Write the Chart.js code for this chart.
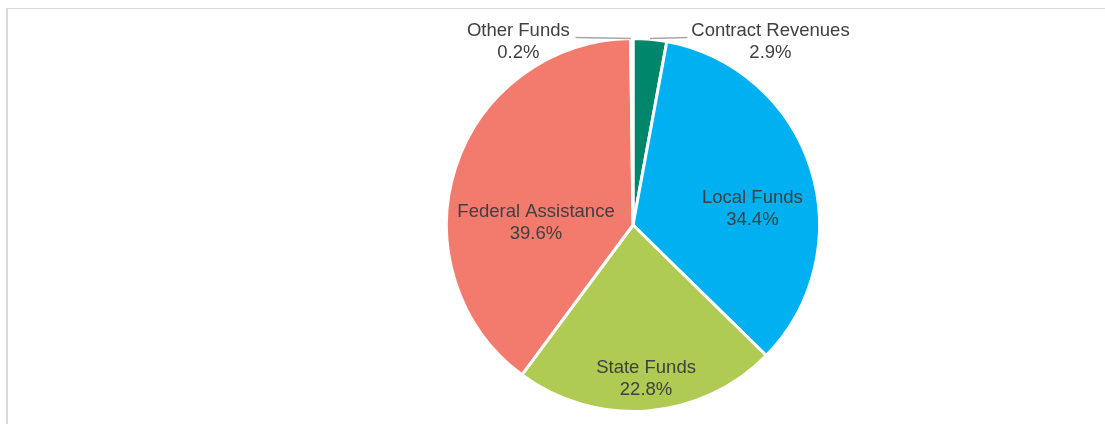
<!DOCTYPE html>
<html>
<head>
<meta charset="utf-8">
<script src="https://cdn.jsdelivr.net/npm/chart.js@4/dist/chart.umd.min.js"></script>
<style>
  html, body { margin: 0; padding: 0; background: #fff; }
  #wrap { position: relative; width: 1105px; height: 424px; overflow: hidden; }
  #frame { position: absolute; left: 6px; top: 8px; width: 1110px; height: 430px;
           border-left: 2px solid #d9d9d9; border-top: 1px solid #d9d9d9; }
  canvas { position: absolute; left: 0; top: 0; }
</style>
</head>
<body>
<div id="wrap">
  <div id="frame"></div>
  <canvas id="pieChart" width="1105" height="424"></canvas>
</div>
<script>
var categories = ['Contract Revenues', 'Local Funds', 'State Funds', 'Federal Assistance', 'Other Funds'];
var shares = [2.9, 34.4, 22.8, 39.6, 0.2];
var sliceColors = ['#00876b', '#00b0f0', '#b0cb54', '#f27b6d', '#a5a5a5'];

// label centres, in pie radii from the pie centre
var labelOffsets = [[0.737, -0.98], [0.64, -0.085], [0.07, 0.825], [-0.52, -0.013], [-0.615, -0.98]];
// leader lines for the labels that sit outside
var leaders = { 0: [[0.091, -1.0], [0.292, -1.006]], 4: [[-0.308, -1.006], [-0.011, -1.0]] };

var labelPlugin = {
    id: 'sliceLabels',
    afterDatasetsDraw: function (chart) {
        var ctx = chart.ctx;
        var meta = chart.getDatasetMeta(0);
        ctx.save();
        meta.data.forEach(function (arc, i) {
            var r = arc.outerRadius;
            var cx = arc.x, cy = arc.y;
            if (leaders[i]) {
                ctx.strokeStyle = '#a6a6a6';
                ctx.lineWidth = 1.5;
                ctx.beginPath();
                ctx.moveTo(cx + leaders[i][0][0] * r, cy + leaders[i][0][1] * r);
                ctx.lineTo(cx + leaders[i][1][0] * r, cy + leaders[i][1][1] * r);
                ctx.stroke();
            }
            var x = cx + labelOffsets[i][0] * r;
            var y = cy + labelOffsets[i][1] * r;
            ctx.fillStyle = '#404040';
            ctx.font = '18.5px "Liberation Sans", Arial, sans-serif';
            ctx.textAlign = 'center';
            ctx.textBaseline = 'middle';
            ctx.fillText(categories[i], x, y - 11);
            ctx.fillText(shares[i].toFixed(1) + '%', x, y + 11);
        });
        ctx.restore();
    }
};

var data = {
    labels: categories,
    datasets: [{
        data: shares,
        backgroundColor: sliceColors,
        borderColor: '#ffffff',
        borderWidth: 3
    }]
};

var config = {
    type: 'pie',
    data: data,
    options: {
        responsive: false,
        animation: false,
        layout: { padding: { top: 37, bottom: 11, left: 161, right: 0 } },
        plugins: {
            legend: { display: false },
            tooltip: { enabled: false }
        }
    },
    plugins: [labelPlugin]
};

var pieChart = new Chart(document.getElementById('pieChart'), config);
</script>
</body>
</html>
